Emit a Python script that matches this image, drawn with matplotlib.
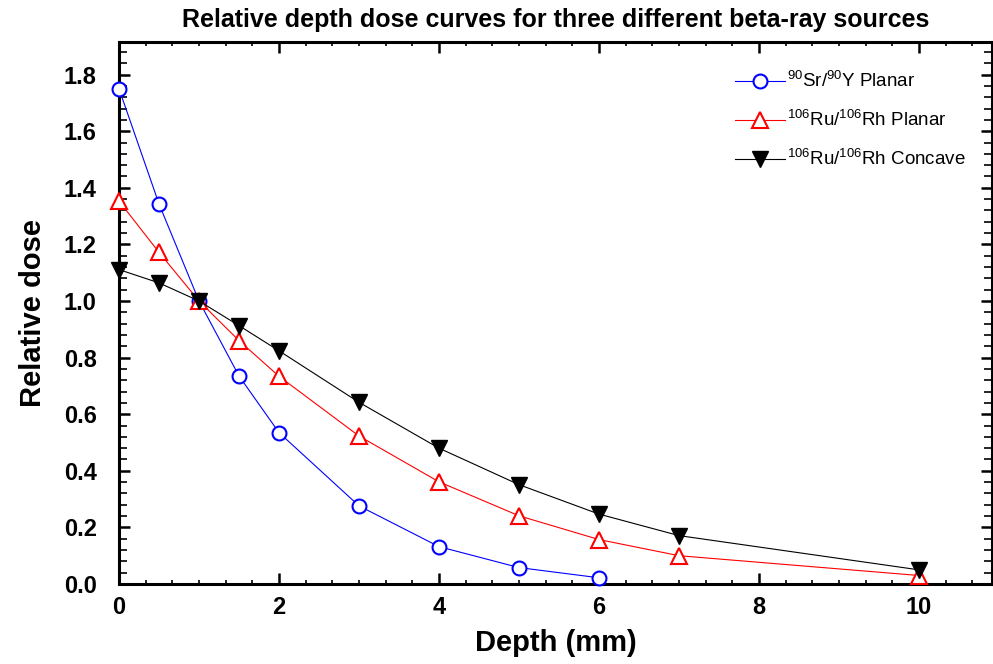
import matplotlib
matplotlib.use("Agg")
import matplotlib.pyplot as plt
from matplotlib.ticker import MultipleLocator, FixedLocator
import numpy as np

plt.rcParams['font.family'] = ['Liberation Sans', 'DejaVu Sans']
plt.rcParams['mathtext.default'] = 'regular'

# Data
depth_sr = [0, 0.5, 1, 1.5, 2, 3, 4, 5, 6]
dose_sr = [1.75, 1.343, 1.0, 0.735, 0.535, 0.276, 0.132, 0.058, 0.022]

depth_ru = [0, 0.5, 1, 1.5, 2, 3, 4, 5, 6, 7, 10]
dose_ru_planar = [1.353, 1.172, 1.0, 0.86, 0.734, 0.523, 0.361, 0.241, 0.157, 0.10, 0.03]
dose_ru_concave = [1.111, 1.064, 1.0, 0.913, 0.824, 0.642, 0.48, 0.351, 0.247, 0.171, 0.05]

labels = [r'$^{90}$Sr/$^{90}$Y Planar',
          r'$^{106}$Ru/$^{106}$Rh Planar',
          r'$^{106}$Ru/$^{106}$Rh Concave']

xticks = [0, 2, 4, 6, 8, 10]
yticks = [0.0, 0.2, 0.4, 0.6, 0.8, 1.0, 1.2, 1.4, 1.6, 1.8]

fig = plt.figure(figsize=(9.93, 6.64), dpi=100)
ax = fig.add_axes([119/993, 1-584/664, (992-119)/993, (584-42)/664])

ax.plot(depth_sr, dose_sr, color='blue', lw=0.8, marker='o', ms=10,
        mfc='white', mec='blue', mew=1.5, label=labels[0], zorder=3, clip_on=False)
ax.plot(depth_ru, dose_ru_planar, color='red', lw=0.8, marker='^', ms=11,
        mfc='white', mec='red', mew=1.5, label=labels[1], zorder=4, clip_on=False)
ax.plot(depth_ru, dose_ru_concave, color='black', lw=0.8, marker='v', ms=11,
        mfc='black', mec='black', mew=1.0, label=labels[2], zorder=5, clip_on=False)

ax.set_xlim(0, (992-119)/80)
ax.set_ylim(0, (584-42)/283)

ax.xaxis.set_major_locator(FixedLocator(xticks))
ax.xaxis.set_minor_locator(MultipleLocator(1/3))
ax.yaxis.set_major_locator(FixedLocator(yticks))
ax.yaxis.set_minor_locator(MultipleLocator(0.04))
ax.set_xticklabels([str(t) for t in xticks])
ax.set_yticklabels([f'{t:.1f}' for t in yticks])

for s in ax.spines.values():
    s.set_linewidth(2.2)

ax.tick_params(axis='both', which='major', direction='in', length=8, width=1.8,
               labelsize=17, pad=6)
ax.tick_params(axis='both', which='minor', direction='in', length=3, width=1.2)
ax.tick_params(axis='y', which='minor', length=6)
ax.tick_params(top=True, right=True, which='both')
ax.tick_params(axis='x', which='major', pad=9)
ax.tick_params(axis='y', which='major', pad=16)
for lab in ax.get_xticklabels() + ax.get_yticklabels():
    lab.set_fontweight('bold')

ax.set_xlabel('Depth (mm)', fontsize=21, fontweight='bold', labelpad=7)
ax.set_ylabel('Relative dose', fontsize=21, fontweight='bold', labelpad=12)
ax.set_title('Relative depth dose curves for three different beta-ray sources',
             fontsize=18, fontweight='bold', pad=11)

leg = ax.legend(loc='upper right', bbox_to_anchor=(0.985, 0.97), frameon=False,
                fontsize=13.5, handlelength=2.7, handletextpad=0.1,
                labelspacing=1.0, borderaxespad=0.3)

fig.savefig('out.png', dpi=100)
